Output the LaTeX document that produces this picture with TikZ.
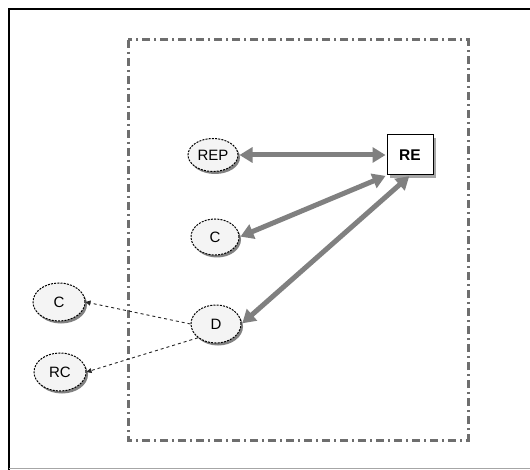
\documentclass[tikz,border=0pt]{standalone}
\usepackage{fontspec}
\setmainfont{Liberation Sans}
\usetikzlibrary{shapes.geometric,shadows,arrows.meta}
\definecolor{arrgray}{RGB}{128,128,128}
\definecolor{boxgray}{RGB}{110,110,110}
\definecolor{ellfill}{RGB}{244,244,244}
\tikzset{
  ell/.style={ellipse, draw=black, densely dashed, dash pattern=on 2pt off 1.2pt, line width=1pt, fill=ellfill,
    inner xsep=1pt, inner ysep=0pt, drop shadow={shadow xshift=2pt, shadow yshift=-2.5pt, fill=black!70, opacity=0.7},
    font=\fontsize{15}{17}\selectfont},
  rebox/.style={rectangle, draw=black, line width=1pt, fill=white, minimum width=46pt, minimum height=40pt,
    drop shadow={shadow xshift=3pt, shadow yshift=-3pt, fill=black!35, opacity=1},
    font=\bfseries\fontsize{15.5}{17}\selectfont},
  thick arr/.style={arrgray, line width=5pt, {Triangle[length=13pt,width=15pt]}-{Triangle[length=13pt,width=15pt]}, shorten <=1pt, shorten >=1pt},
  thin arr/.style={black!85, line width=0.9pt, dashed, dash pattern=on 3pt off 3pt, -{Triangle[length=5pt,width=5pt]}},
  frameline/.style={boxgray, line width=3pt, dash pattern=on 8pt off 4pt on 2pt off 4pt}
}
\begin{document}
\begin{tikzpicture}[x=1pt,y=-1pt]
\useasboundingbox (0,0) rectangle (530,470);
\fill[white] (0,0) rectangle (530,470);
% outer frame
\draw[black, line width=2.5pt] (9,470) -- (9,9) -- (530,9);
\draw[black!35, line width=1pt] (9,468) -- (530,468);
% dash-dot box
\draw[frameline] (128,40) rectangle (468,440);
% nodes
\node[ell, minimum width=50pt, minimum height=33pt] (rep) at (213,155) {REP};
\node[rebox] (re) at (410,155) {RE};
\node[ell, minimum width=48pt, minimum height=36pt] (c1) at (215,237) {C};
\node[ell, minimum width=50pt, minimum height=38pt] (d) at (216,324) {D};
\node[ell, minimum width=52pt, minimum height=38pt] (c2) at (59,302) {C};
\node[ell, minimum width=52pt, minimum height=38pt] (rc) at (60,372) {RC};
% connectors
\draw[thick arr] (rep.east) -- (re.west);
\draw[thick arr] (c1.east) -- (re.south west);
\draw[thick arr] (d.east) -- (re.south);
\draw[thin arr] (d.west) -- (c2.east);
\draw[thin arr] (d.south west) -- (rc.east);
\end{tikzpicture}
\end{document}
